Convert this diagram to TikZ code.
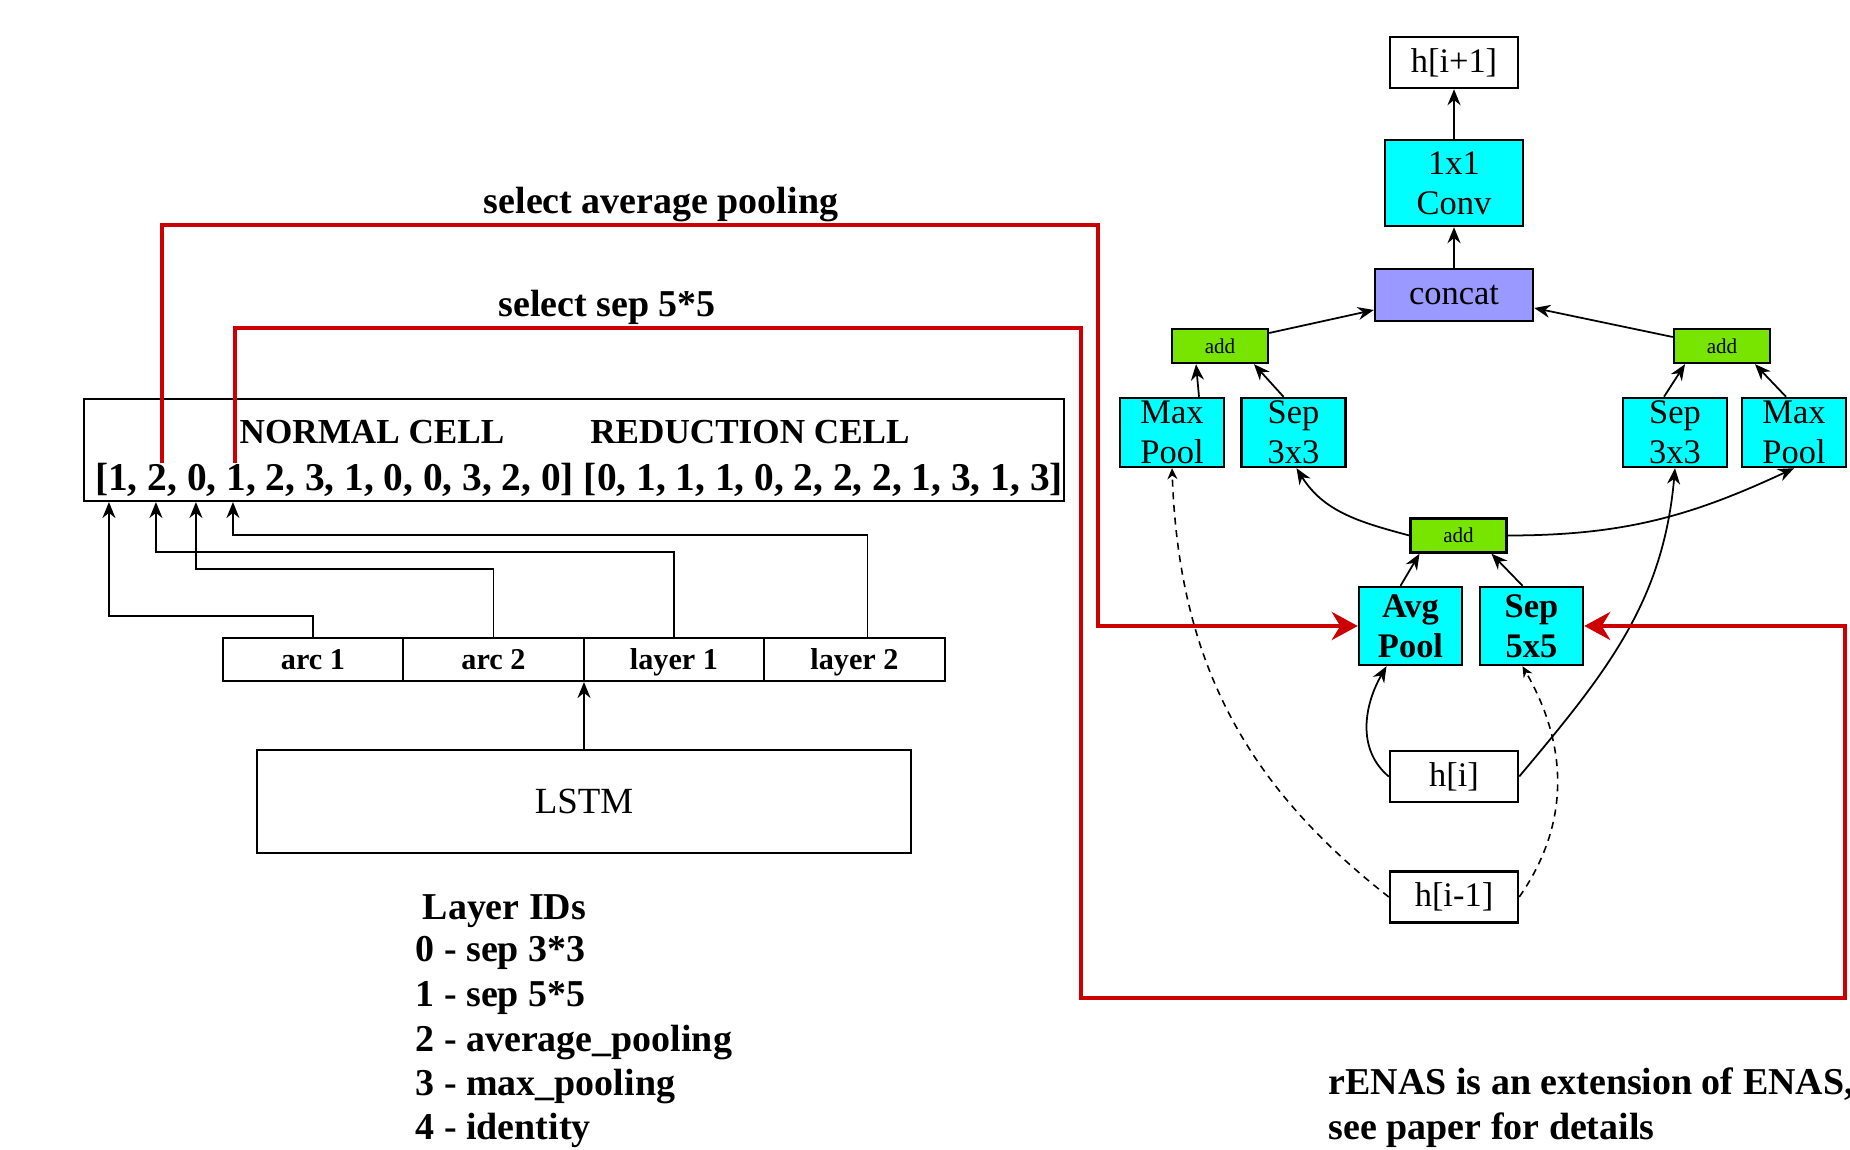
\documentclass[tikz,border=0pt]{standalone}
\usepackage{fontspec}
\setmainfont{Liberation Serif}
\usetikzlibrary{arrows.meta}
\definecolor{opcyan}{RGB}{0,255,255}
\definecolor{catblue}{RGB}{153,153,255}
\definecolor{addgreen}{RGB}{119,229,0}
\definecolor{selred}{RGB}{204,0,0}

\begin{document}
\begin{tikzpicture}[
  box/.style={rectangle, draw, line width=0.7pt, fill=#1, inner sep=0pt, align=center,
              font=\fontsize{9.8}{11.4}\selectfont},
  box/.default=white,
  op/.style={box=opcyan, minimum width=10.4mm, minimum height=6.9mm},
  opb/.style={op, minimum width=10.3mm, minimum height=7.8mm,
              font=\bfseries\fontsize{9.8}{11.4}\selectfont},
  addop/.style={box=addgreen, minimum width=9.6mm, minimum height=3.4mm,
                font=\fontsize{6}{7}\selectfont},
  hbox/.style={box, minimum width=12.8mm, minimum height=5.1mm, text height=1.55ex, text depth=0.35ex},
  cellbox/.style={rectangle, draw, line width=0.6pt, minimum width=18.05mm,
                  minimum height=4.3mm, inner sep=0pt, text height=1.5ex, text depth=0.25ex,
                  font=\bfseries\fontsize{8.6}{10}\selectfont},
  lbl/.style={inner sep=0pt, font=\bfseries\fontsize{10.8}{12.5}\selectfont},
  arr/.style={-{Stealth[length=1.6mm,width=1.3mm]}, line width=0.5pt},
  darr/.style={-{Stealth[length=1.1mm,width=1mm]}, line width=0.45pt, dash pattern=on 2pt off 1.6pt},
  sel/.style={-{Stealth[length=2.6mm,width=2.8mm]}, line width=1.2pt, selred}
]
  \useasboundingbox (0,0) rectangle (18.5,-11.5);

  % Controller output
  \node[draw, line width=0.6pt, minimum width=9.8cm, minimum height=1.02cm, inner sep=0pt] (cells) at (5.74,-4.50) {};
  \node[lbl, font=\bfseries\fontsize{10}{12}\selectfont, anchor=base] (normal) at (3.72,-4.44) {NORMAL CELL};
  \node[lbl, font=\bfseries\fontsize{10}{12}\selectfont, anchor=base] (reduction) at (7.50,-4.44) {REDUCTION CELL};
  \node[lbl, font=\bfseries\fontsize{11.2}{13}\selectfont, anchor=base] (seq) at (5.79,-4.91)
    {[1, 2, 0, 1, 2, 3, 1, 0, 0, 3, 2, 0] [0, 1, 1, 1, 0, 2, 2, 2, 1, 3, 1, 3]};

  % Controller steps
  \node[cellbox] (arc1) at (3.13,-6.595) {arc 1};
  \node[cellbox] (arc2) at (4.935,-6.595) {arc 2};
  \node[cellbox] (lay1) at (6.74,-6.595) {layer 1};
  \node[cellbox] (lay2) at (8.545,-6.595) {layer 2};
  \draw[arr] (arc1.north) -- ++(0,0.21) -| ([xshift=2.6mm]cells.south west);
  \draw[arr] (arc2.north) -- ++(0,0.68) -| ([xshift=11.3mm]cells.south west);
  \draw[arr] (lay1.north) -- ++(0,0.85) -| ([xshift=7.3mm]cells.south west);
  \draw[arr] ([xshift=1.3mm]lay2.north) -- ++(0,1.02) -| ([xshift=15mm]cells.south west);

  % LSTM
  \node[draw, line width=0.6pt, minimum width=6.54cm, minimum height=1.03cm,
        font=\fontsize{10.5}{12}\selectfont] (lstm) at (5.84,-8.015) {LSTM};
  \draw[arr] (lstm.north) -- (lstm.north |- lay1.south);

  % Layer IDs
  \node[lbl, anchor=base west] (idhead) at (4.22,-9.20) {Layer IDs};
  \node[lbl, anchor=base west] (id0) at (4.15,-9.62) {0 - sep 3*3};
  \node[lbl, anchor=base west] (id1) at (4.15,-10.07) {1 - sep 5*5};
  \node[lbl, anchor=base west] (id2) at (4.15,-10.52) {2 - average\_pooling};
  \node[lbl, anchor=base west] (id3) at (4.15,-10.96) {3 - max\_pooling};
  \node[lbl, anchor=base west] (id4) at (4.15,-11.40) {4 - identity};

  % Cell
  \node[hbox] (hnext) at (14.54,-0.625) {h[i+1]};
  \node[op, minimum width=13.8mm, minimum height=8.6mm] (conv) at (14.54,-1.83) {1x1\\Conv};
  \node[box=catblue, minimum width=15.8mm, minimum height=5.2mm] (concat) at (14.54,-2.95) {concat};
  \node[addop] (addl) at (12.20,-3.46) {add};
  \node[addop] (addr) at (17.22,-3.46) {add};
  \node[op] (mpl) at (11.72,-4.325) {Max\\Pool};
  \node[op] (sepl) at (12.935,-4.325) {Sep\\3x3};
  \node[op] (sepr) at (16.75,-4.325) {Sep\\3x3};
  \node[op] (mpr) at (17.94,-4.325) {Max\\Pool};
  \node[addop] (addm) at (14.585,-5.355) {add};
  \node[opb] (avg) at (14.105,-6.26) {Avg\\Pool};
  \node[opb] (sep5) at (15.315,-6.26) {Sep\\5x5};
  \node[hbox] (hcur) at (14.54,-7.765) {h[i]};
  \node[hbox] (hprev) at (14.54,-8.97) {h[i-1]};

  \draw[arr] (conv) -- (hnext);
  \draw[arr] (concat) -- (conv);
  \draw[arr] ([yshift=1.3mm]addl.east) -- ([yshift=-1.5mm]concat.west);
  \draw[arr] ([yshift=0.9mm]addr.west) -- ([yshift=-1.3mm]concat.east);
  \draw[arr] ([xshift=2.7mm]mpl.north) -- ([xshift=-2.4mm]addl.south);
  \draw[arr] ([xshift=-1mm]sepl.north) -- ([xshift=3.4mm]addl.south);
  \draw[arr] ([xshift=-1.1mm]sepr.north) -- ([xshift=-3.7mm]addr.south);
  \draw[arr] ([xshift=-0.8mm]mpr.north) -- ([xshift=3.3mm]addr.south);
  \draw[arr] ([xshift=-1mm]avg.north) -- ([xshift=-3.9mm]addm.south);
  \draw[arr] ([xshift=-0.9mm]sep5.north) -- ([xshift=3.3mm]addm.south);
  \draw[arr] (addm.west) to[out=165, in=-58] ([xshift=0.3mm]sepl.south);
  \draw[arr] (addm.east) to[out=0, in=-155] (mpr.south);
  \draw[arr] (hcur.west) to[out=140, in=-120] ([xshift=-2.4mm]avg.south);
  \draw[arr] (hcur.east) to[out=50, in=-95] (sepr.south);
  \draw[darr] (hprev.west) to[out=142, in=-88] (mpl.south);
  \draw[darr] (hprev.east) to[out=55, in=-60] ([xshift=-0.9mm]sep5.south);

  % Selections
  \coordinate (pick1) at (1.62,-4.63);
  \coordinate (pick2) at (2.35,-4.63);
  \draw[sel] (pick1) |- (10.98,-2.25) |- (avg.west);
  \draw[sel] (pick2) |- (10.81,-3.28) |- (18.45,-9.98) |- (sep5.east);
  \node[lbl, anchor=base] (selavg) at (6.61,-2.14) {select average pooling};
  \node[lbl, anchor=base] (selsep) at (6.07,-3.17) {select sep 5*5};

  % Note
  \node[lbl, anchor=base west] (note1) at (13.28,-10.95) {rENAS is an extension of ENAS,};
  \node[lbl, anchor=base west] (note2) at (13.28,-11.40) {see paper for details};
\end{tikzpicture}
\end{document}
